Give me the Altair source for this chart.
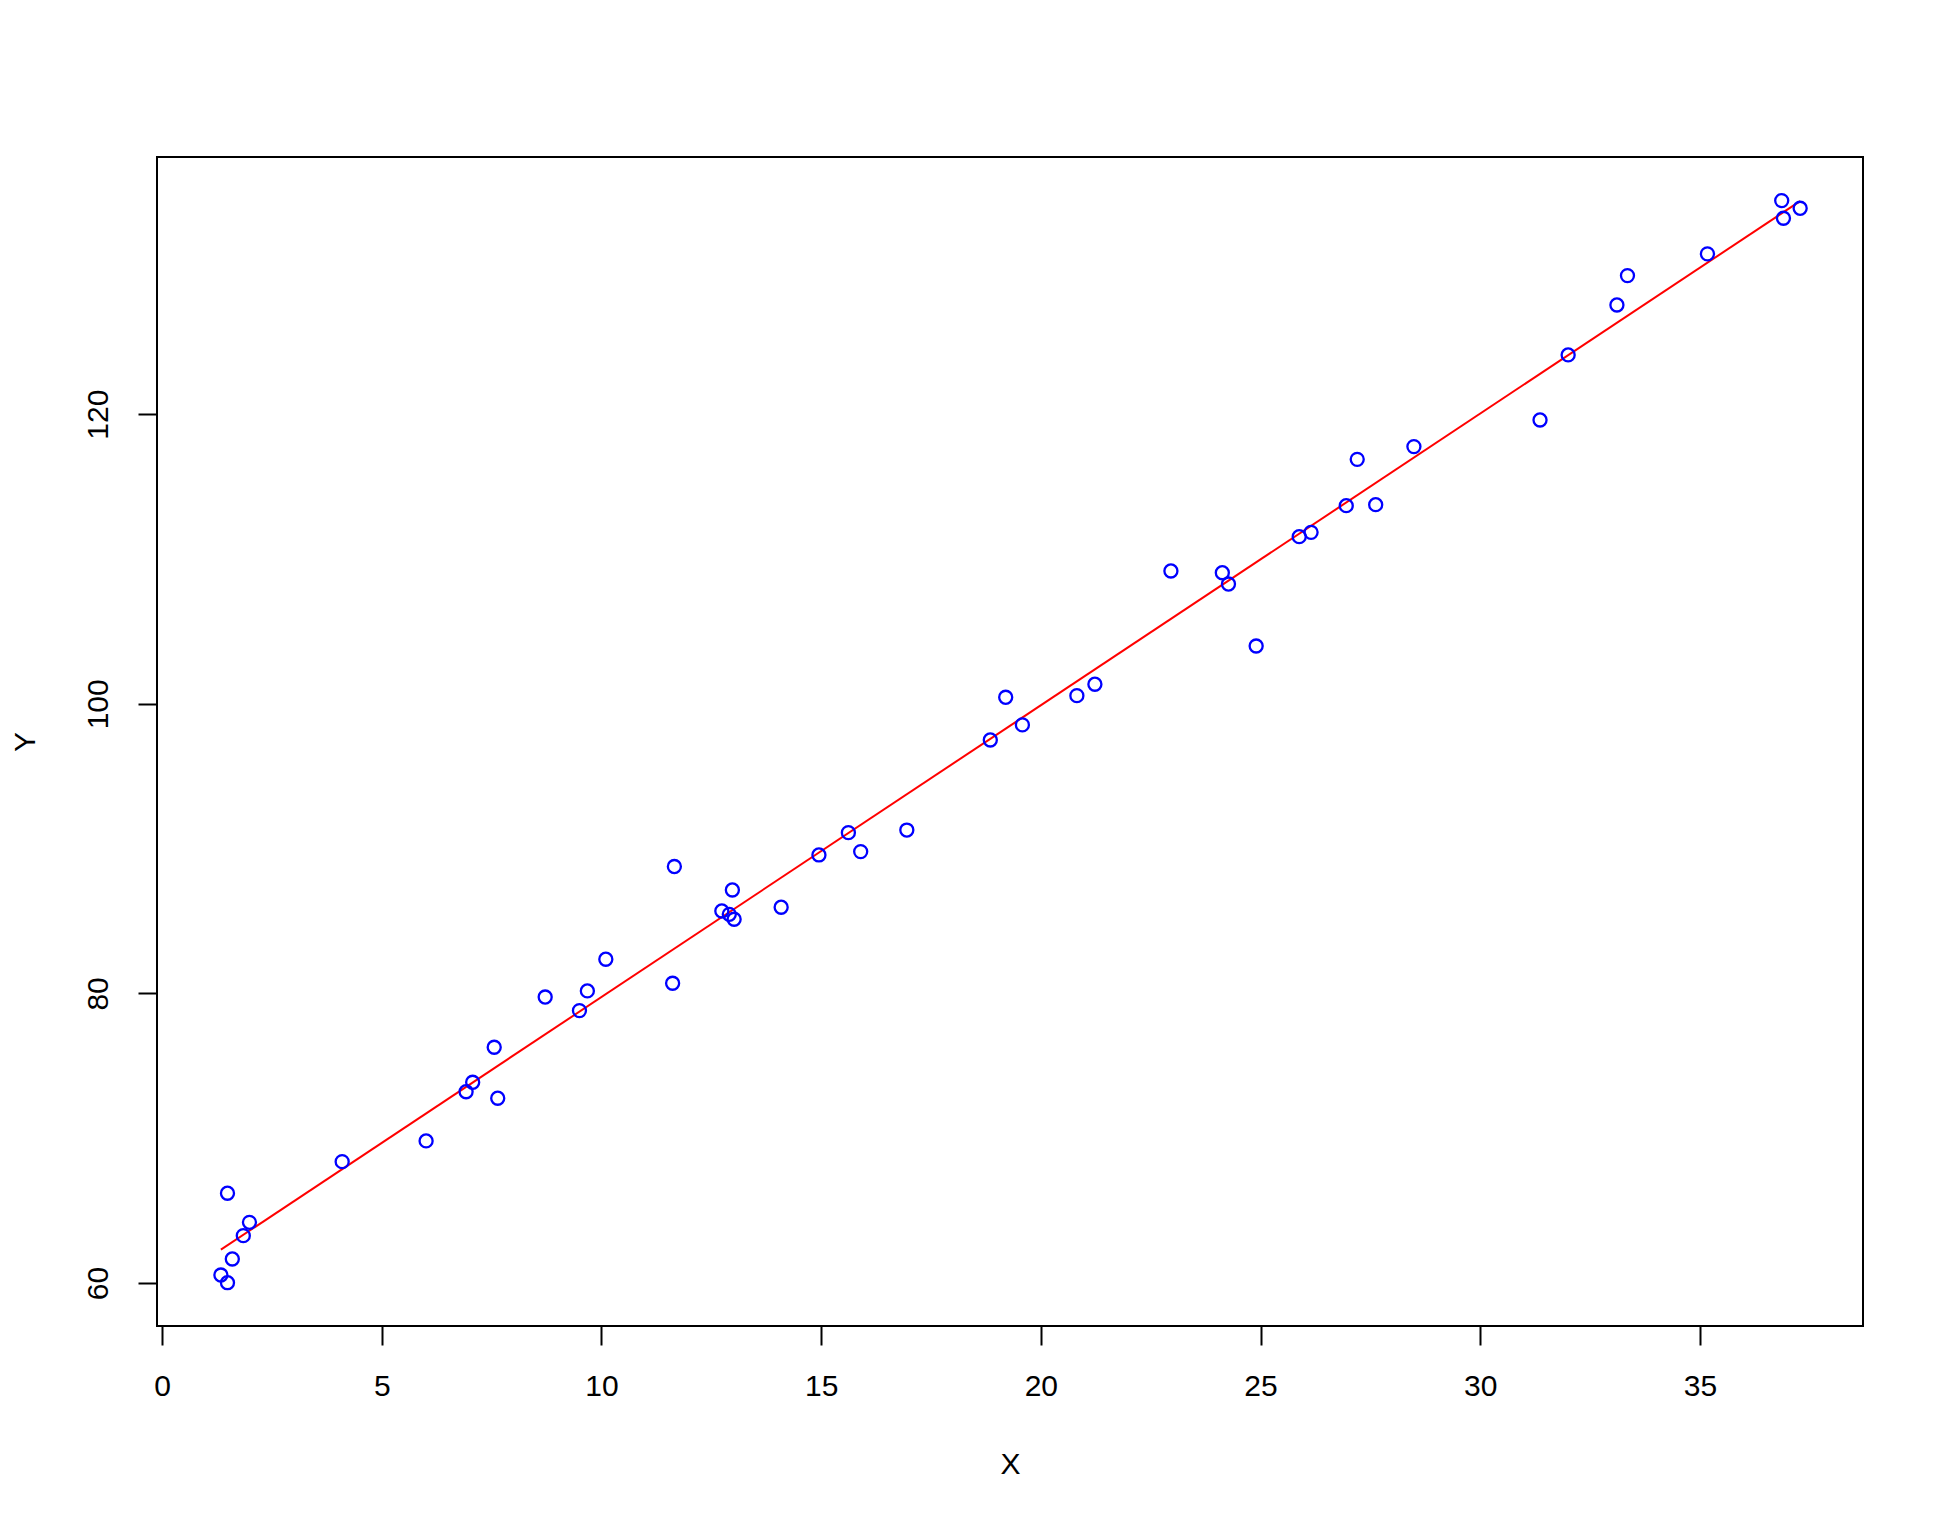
import altair as alt
import pandas as pd

x_vals = [1.34, 1.49, 1.49, 1.60, 1.85, 1.99, 4.10, 6.01, 6.92, 7.07,
          7.56, 7.64, 8.72, 9.50, 9.68, 10.10, 11.62, 11.66, 12.74, 12.91,
          12.98, 13.02, 14.09, 14.95, 15.62, 15.90, 16.95, 18.85, 19.20, 19.58,
          20.82, 21.23, 22.96, 24.13, 24.27, 24.90, 25.88, 26.15, 26.95, 27.20,
          27.62, 28.49, 31.36, 32.00, 33.11, 33.35, 35.17, 36.86, 36.90, 37.28]
y_vals = [60.55, 60.02, 66.20, 61.66, 63.27, 64.19, 68.38, 69.81, 73.21, 73.86,
          76.28, 72.76, 79.75, 78.81, 80.17, 82.36, 80.70, 88.76, 85.69, 85.46,
          87.14, 85.12, 85.95, 89.56, 91.10, 89.79, 91.28, 97.50, 100.45, 98.54,
          100.56, 101.35, 109.17, 109.05, 108.27, 103.99, 111.54, 111.84, 113.68, 116.88,
          113.75, 117.76, 119.60, 124.09, 127.54, 129.57, 131.07, 134.75, 133.53, 134.22]

x_ticks = [0, 5, 10, 15, 20, 25, 30, 35]
y_ticks = [60, 80, 100, 120]
x_domain = [-0.114, 38.71]
y_domain = [57.03, 137.76]

df = pd.DataFrame({"x": x_vals, "y": y_vals})

W, H = 1706, 1169
FONT = "Liberation Sans"

x_enc = alt.X("x:Q", scale=alt.Scale(domain=x_domain, nice=False, zero=False),
              axis=alt.Axis(values=x_ticks, title="X", grid=False, domain=False,
                            tickSize=19, tickWidth=2, tickColor="black",
                            labelFontSize=30, labelFont=FONT, labelColor="black",
                            labelPadding=26, labelFlush=False,
                            titleFont=FONT, titleFontSize=30, titleFontWeight="normal",
                            titleColor="black", titleBaseline="alphabetic",
                            titleX=W / 2, titleY=147, titleAlign="center"))
y_enc = alt.Y("y:Q", scale=alt.Scale(domain=y_domain, nice=False, zero=False),
              axis=alt.Axis(values=y_ticks, title="Y", grid=False, domain=False,
                            tickSize=19, tickWidth=2, tickColor="black",
                            labelFontSize=30, labelFont=FONT, labelColor="black",
                            labelAngle=270, labelAlign="center", labelBaseline="bottom",
                            labelPadding=25, labelFlush=False,
                            titleFont=FONT, titleFontSize=30, titleFontWeight="normal",
                            titleColor="black", titleAngle=270, titleAlign="center",
                            titleBaseline="alphabetic", titleX=-123, titleY=H / 2))

base = alt.Chart(df)
points = base.mark_point(shape="circle", filled=False, color="blue", size=170,
                         strokeWidth=2.3, opacity=1).encode(x=x_enc, y=y_enc)
line = base.transform_regression("x", "y").mark_line(color="red", strokeWidth=2).encode(
    x=alt.X("x:Q"), y=alt.Y("y:Q"))

chart = alt.layer(line, points).properties(
    width=W, height=H,
    autosize=alt.AutoSizeParams(type="none"),
    padding={"left": 149, "top": 149, "right": 73, "bottom": 188},
    background="white",
).configure_view(stroke="black", strokeWidth=2)

chart.save("out.html", embed_options={"renderer": "svg", "actions": False})
